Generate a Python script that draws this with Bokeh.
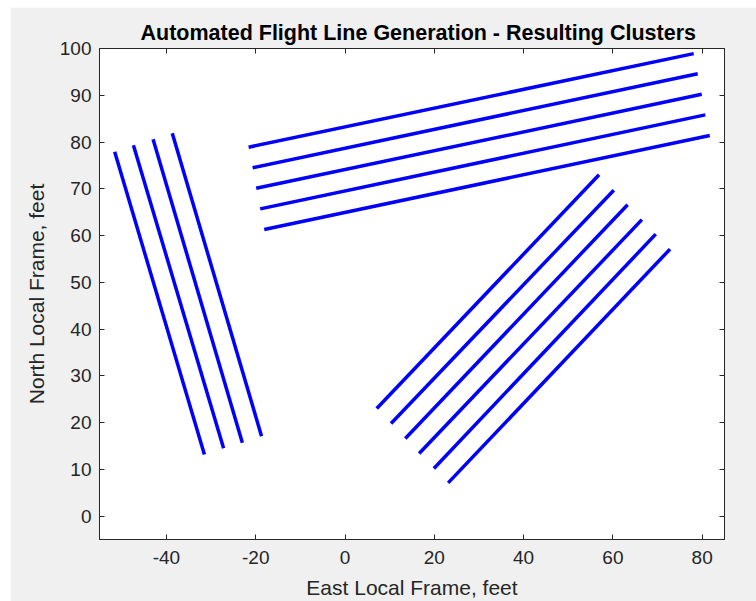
from bokeh.plotting import figure
from bokeh.models import LinearAxis, FixedTicker, Range1d
from bokeh.embed import file_html
from bokeh.resources import INLINE

# Flight line endpoints (East, North in feet), grouped by cluster
west_start_e = [-51.6, -47.4, -43.0, -38.7]
west_start_n = [77.9, 79.3, 80.6, 81.9]
west_end_e = [-31.5, -27.2, -23.0, -18.7]
west_end_n = [13.2, 14.5, 15.7, 17.1]

north_start_e = [-21.6, -20.7, -19.9, -19.0, -18.1]
north_start_n = [78.9, 74.5, 70.1, 65.7, 61.3]
north_end_e = [78.1, 79.0, 79.9, 80.7, 81.7]
north_end_n = [98.9, 94.6, 90.2, 85.8, 81.4]

east_start_e = [7.1, 10.3, 13.5, 16.6, 19.9, 23.1]
east_start_n = [23.0, 19.8, 16.6, 13.4, 10.2, 7.1]
east_end_e = [56.9, 60.2, 63.3, 66.5, 69.6, 72.8]
east_end_n = [73.0, 69.7, 66.6, 63.4, 60.3, 57.1]

x_ticks = [-40, -20, 0, 20, 40, 60, 80]
x_tick_labels = ["-40", "-20", "0", "20", "40", "60", "80"]
y_ticks = [0, 10, 20, 30, 40, 50, 60, 70, 80, 90, 100]
y_tick_labels = ["0", "10", "20", "30", "40", "50", "60", "70", "80", "90", "100"]

FONT = "Liberation Sans"
INK = "#262626"

p = figure(
    frame_width=625, frame_height=491,
    x_range=Range1d(-55, 85), y_range=Range1d(-5, 100),
    output_backend="svg", toolbar_location=None,
    min_border_left=89, min_border_right=32,
    min_border_top=41, min_border_bottom=62,
    background_fill_color="white", border_fill_color="#f0f0f0",
    title="Automated Flight Line Generation - Resulting Clusters",
)
p.margin = (7, 0, 0, 10)
p.grid.visible = False
p.outline_line_color = INK
p.outline_line_width = 1

p.title.text_font = FONT
p.title.text_font_size = "21.5px"
p.title.text_font_style = "bold"
p.title.text_color = "black"
p.title.align = "left"
p.title.offset = 41
p.title.standoff = 8


def style_axis(ax, ticks, labels, show_labels):
    ax.ticker = FixedTicker(ticks=ticks)
    ax.major_label_overrides = {t: s for t, s in zip(ticks, labels)}
    ax.axis_line_color = INK
    ax.major_tick_line_color = INK
    ax.major_tick_in = 5
    ax.major_tick_out = 0
    ax.minor_tick_line_color = None
    ax.major_label_text_font = FONT
    ax.major_label_text_font_size = "19px" if show_labels else "0px"
    ax.major_label_text_color = INK
    ax.axis_label_text_font = FONT
    ax.axis_label_text_font_size = "21px"
    ax.axis_label_text_font_style = "normal"
    ax.axis_label_text_color = INK
    if not show_labels:
        ax.major_label_standoff = 0


for ax in p.xaxis:
    style_axis(ax, x_ticks, x_tick_labels, True)
    ax.axis_label = "East Local Frame, feet"
    ax.major_label_standoff = 11
    ax.axis_label_standoff = 9
for ax in p.yaxis:
    style_axis(ax, y_ticks, y_tick_labels, True)
    ax.axis_label = "North Local Frame, feet"
    ax.major_label_standoff = 8
    ax.axis_label_standoff = 9

top_axis = LinearAxis()
style_axis(top_axis, x_ticks, x_tick_labels, False)
p.add_layout(top_axis, "above")
right_axis = LinearAxis()
style_axis(right_axis, y_ticks, y_tick_labels, False)
p.add_layout(right_axis, "right")

for se, sn, ee, en in [
    (west_start_e, west_start_n, west_end_e, west_end_n),
    (north_start_e, north_start_n, north_end_e, north_end_n),
    (east_start_e, east_start_n, east_end_e, east_end_n),
]:
    p.segment(x0=se, y0=sn, x1=ee, y1=en,
              line_color="#0000ff", line_width=3.5, line_cap="butt")

open("out.html", "w").write(file_html(p, INLINE))
